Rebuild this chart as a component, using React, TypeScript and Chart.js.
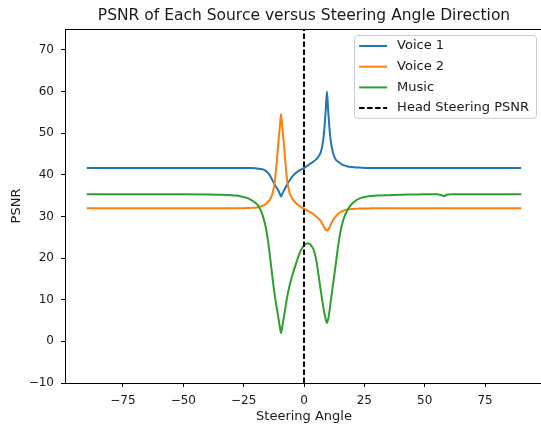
import React, { useEffect, useRef } from "react";
import { Chart, registerables } from "chart.js";

Chart.register(...registerables);

// ---------- data ----------
const ANGLES = [
  -90, -80, -70, -60, -50, -40, -35, -30, -28, -26,
  -24, -22, -20, -19, -18, -17, -16, -15, -14, -13,
  -12, -11, -10.5, -10, -9.5, -9, -8.5, -8, -7, -6,
  -5, -4, -3, -2, -1, 0, 1, 2, 3, 4,
  5, 6, 7, 8, 8.5, 9, 9.5, 10, 10.5, 11,
  12, 13, 14, 15, 16, 17, 18, 19, 20, 22,
  24, 26, 28, 30, 35, 40, 45, 50, 55, 57,
  58, 59, 61, 65, 70, 80, 90,
];

const VOICE1 = [
  41.6, 41.6, 41.6, 41.6, 41.6, 41.6, 41.6, 41.6, 41.6, 41.6,
  41.6, 41.6, 41.55, 41.45, 41.4, 41.3, 41.0, 40.5, 39.7, 38.6,
  37.5, 36.6, 36.1, 35.4, 34.8, 35.4, 36.0, 36.6, 37.6, 38.6,
  39.5, 40.1, 40.6, 41.0, 41.3, 41.6, 42.0, 42.4, 42.8, 43.2,
  43.7, 44.4, 45.5, 48.5, 51.5, 55.5, 60.0, 55.5, 51.5, 48.5,
  45.3, 43.8, 43.2, 42.8, 42.4, 42.2, 42.0, 41.9, 41.85, 41.75,
  41.7, 41.65, 41.6, 41.6, 41.6, 41.6, 41.6, 41.6, 41.6, 41.6,
  41.6, 41.6, 41.6, 41.6, 41.6, 41.6, 41.6,
];

const VOICE2 = [
  31.95, 31.95, 31.95, 31.95, 31.95, 31.95, 31.95, 31.95, 31.95, 31.95,
  32.0, 32.05, 32.1, 32.2, 32.35, 32.6, 32.9, 33.4, 34.2, 35.6,
  38.8, 45.0, 48.5, 51.5, 54.6, 51.5, 48.5, 45.0, 38.6, 35.8,
  34.4, 33.6, 33.0, 32.6, 32.2, 31.8, 31.5, 31.2, 30.9, 30.5,
  30.0, 29.5, 28.8, 27.8, 27.2, 26.8, 26.6, 26.8, 27.3, 27.9,
  29.0, 29.9, 30.5, 31.0, 31.3, 31.5, 31.65, 31.75, 31.8, 31.85,
  31.9, 31.9, 31.95, 31.95, 31.95, 31.95, 31.95, 31.95, 31.95, 31.95,
  31.95, 31.95, 31.95, 31.95, 31.95, 31.95, 31.95,
];

const MUSIC = [
  35.3, 35.3, 35.3, 35.3, 35.3, 35.25, 35.2, 35.1, 35.0, 34.8,
  34.5, 34.0, 33.2, 32.6, 31.6, 30.0, 27.8, 24.5, 20.0, 15.0,
  10.6, 7.0, 5.2, 3.5, 2.0, 3.5, 5.2, 7.0, 10.6, 13.3,
  15.5, 17.4, 19.2, 20.9, 22.2, 23.0, 23.5, 23.5, 23.0, 22.0,
  19.8, 16.0, 12.0, 8.2, 6.6, 5.3, 4.4, 5.3, 7.0, 9.3,
  13.6, 17.8, 22.3, 26.0, 28.6, 30.3, 31.5, 32.4, 33.1, 34.0,
  34.5, 34.75, 34.9, 35.0, 35.1, 35.2, 35.25, 35.3, 35.3, 35.1,
  34.9, 35.2, 35.35, 35.35, 35.35, 35.35, 35.35,
];

const HEAD_STEERING_ANGLE = 0;
const SERIES_NAMES = ["Voice 1", "Voice 2", "Music", "Head Steering PSNR"];
const SERIES_COLORS = ["#1f77b4", "#ff7f0e", "#2ca02c", "#000000"];
const X_TICKS = [-75, -50, -25, 0, 25, 50, 75];
const Y_TICKS = [-10, 0, 10, 20, 30, 40, 50, 60, 70];
const X_RANGE = [-99, 99];
const Y_RANGE = [-10, 75];
const TITLE = "PSNR of Each Source versus Steering Angle Direction";
const X_LABEL = "Steering Angle";
const Y_LABEL = "PSNR";

const FONT = '"DejaVu Sans", "Liberation Sans", sans-serif';
const TEXT_COLOR = "#1a1a1a";

const fmt = (v: number) => (v < 0 ? "\u2212" + Math.abs(v) : String(v));

const decorPlugin = {
  id: "decor",
  afterDraw(chart: any) {
    const { ctx, chartArea: a } = chart;
    ctx.save();
    // top / right spines
    ctx.strokeStyle = "#000";
    ctx.lineWidth = 1;
    ctx.beginPath();
    ctx.moveTo(a.left, a.top + 0.5);
    ctx.lineTo(a.right, a.top + 0.5);
    ctx.moveTo(a.right - 0.5, a.top);
    ctx.lineTo(a.right - 0.5, a.bottom);
    ctx.stroke();

    // title
    ctx.font = `15.5px ${FONT}`;
    ctx.fillStyle = TEXT_COLOR;
    ctx.textAlign = "center";
    ctx.textBaseline = "middle";
    ctx.fillText(TITLE, (a.left + a.right) / 2, 15.5);

    // legend
    const fs = 13;
    ctx.font = `${fs}px ${FONT}`;
    const items = chart.data.datasets;
    const maxW = Math.max(...items.map((d: any) => ctx.measureText(d.label).width));
    const pad = 5, handle = 28, gap = 10, rowH = 20.7;
    const w = pad + handle + gap + maxW + 7;
    const h = items.length * rowH;
    const right = a.right - 7;
    const top = a.top + 6;
    const left = right - w;
    ctx.beginPath();
    if (ctx.roundRect) ctx.roundRect(left + 0.5, top + 0.5, w, h, 3);
    else ctx.rect(left + 0.5, top + 0.5, w, h);
    ctx.fillStyle = "rgba(255,255,255,0.8)";
    ctx.fill();
    ctx.strokeStyle = "#cccccc";
    ctx.lineWidth = 1;
    ctx.stroke();
    items.forEach((d: any, i: number) => {
      const y = top + 11 + i * rowH;
      ctx.beginPath();
      ctx.setLineDash(d.borderDash || []);
      ctx.strokeStyle = d.borderColor;
      ctx.lineWidth = 2;
      ctx.moveTo(left + pad, y);
      ctx.lineTo(left + pad + handle, y);
      ctx.stroke();
      ctx.setLineDash([]);
      ctx.fillStyle = TEXT_COLOR;
      ctx.textAlign = "left";
      ctx.textBaseline = "middle";
      ctx.fillText(d.label, left + pad + handle + gap, y);
    });
    ctx.restore();
  },
};

export default function App() {
  const ref = useRef<HTMLCanvasElement>(null);

  useEffect(() => {
    const canvas = ref.current;
    if (!canvas) return;
    const toPts = (ys: number[]) => ANGLES.map((x, i) => ({ x, y: ys[i] }));
    const lineCommon = {
      borderWidth: 2,
      pointRadius: 0,
      fill: false,
      cubicInterpolationMode: "monotone" as const,
    };
    const series = [VOICE1, VOICE2, MUSIC];
    const datasets: any[] = series.map((ys, i) => ({
      label: SERIES_NAMES[i],
      data: toPts(ys),
      borderColor: SERIES_COLORS[i],
      backgroundColor: SERIES_COLORS[i],
      order: 3 - i,
      ...lineCommon,
    }));
    datasets.push({
      label: SERIES_NAMES[3],
      data: [
        { x: HEAD_STEERING_ANGLE, y: Y_RANGE[0] },
        { x: HEAD_STEERING_ANGLE, y: Y_RANGE[1] },
      ],
      borderColor: SERIES_COLORS[3],
      backgroundColor: SERIES_COLORS[3],
      borderDash: [5.5, 2.5],
      borderWidth: 2,
      pointRadius: 0,
      tension: 0,
      order: 0,
    });

    const chart = new Chart(canvas, {
      type: "line",
      data: { datasets },
      options: {
        responsive: false,
        animation: false,
        devicePixelRatio: 1,
        layout: { padding: { top: 29, right: 17, left: 0, bottom: 0 } },
        plugins: {
          legend: { display: false },
          title: { display: false },
          tooltip: { enabled: false },
        },
        scales: {
          x: {
            type: "linear",
            min: X_RANGE[0],
            max: X_RANGE[1],
            afterBuildTicks: (s: any) => {
              s.ticks = X_TICKS.map((v) => ({ value: v }));
            },
            afterFit: (s: any) => {
              s.height = 42;
            },
            grid: { drawOnChartArea: false, drawTicks: true, tickLength: 4, color: "#000" },
            border: { display: true, color: "#000", width: 1 },
            ticks: {
              font: { family: FONT, size: 12 },
              color: TEXT_COLOR,
              padding: 7,
              maxRotation: 0,
              autoSkip: false,
              callback: (v: any) => fmt(Number(v)),
            },
            title: {
              display: true,
              text: X_LABEL,
              font: { family: FONT, size: 13 },
              color: TEXT_COLOR,
              padding: { top: 0, bottom: 1 },
            },
          },
          y: {
            type: "linear",
            min: Y_RANGE[0],
            max: Y_RANGE[1],
            afterBuildTicks: (s: any) => {
              s.ticks = Y_TICKS.map((v) => ({ value: v }));
            },
            afterFit: (s: any) => {
              s.width = 65;
            },
            grid: { drawOnChartArea: false, drawTicks: true, tickLength: 4, color: "#000" },
            border: { display: true, color: "#000", width: 1 },
            ticks: {
              font: { family: FONT, size: 12 },
              color: TEXT_COLOR,
              padding: 7,
              autoSkip: false,
              callback: (v: any) => fmt(Number(v)),
            },
            title: {
              display: true,
              text: Y_LABEL,
              font: { family: FONT, size: 13 },
              color: TEXT_COLOR,
              padding: { top: 9, bottom: 0 },
            },
          },
        },
      } as any,
      plugins: [decorPlugin],
    });
    return () => chart.destroy();
  }, []);

  return (
    <div
      style={{
        position: "fixed",
        left: 0,
        top: 0,
        width: 541,
        height: 425,
        overflow: "hidden",
        background: "#fff",
      }}
    >
      <canvas ref={ref} width={560} height={425} style={{ display: "block", width: 560, height: 425 }} />
    </div>
  );
}
